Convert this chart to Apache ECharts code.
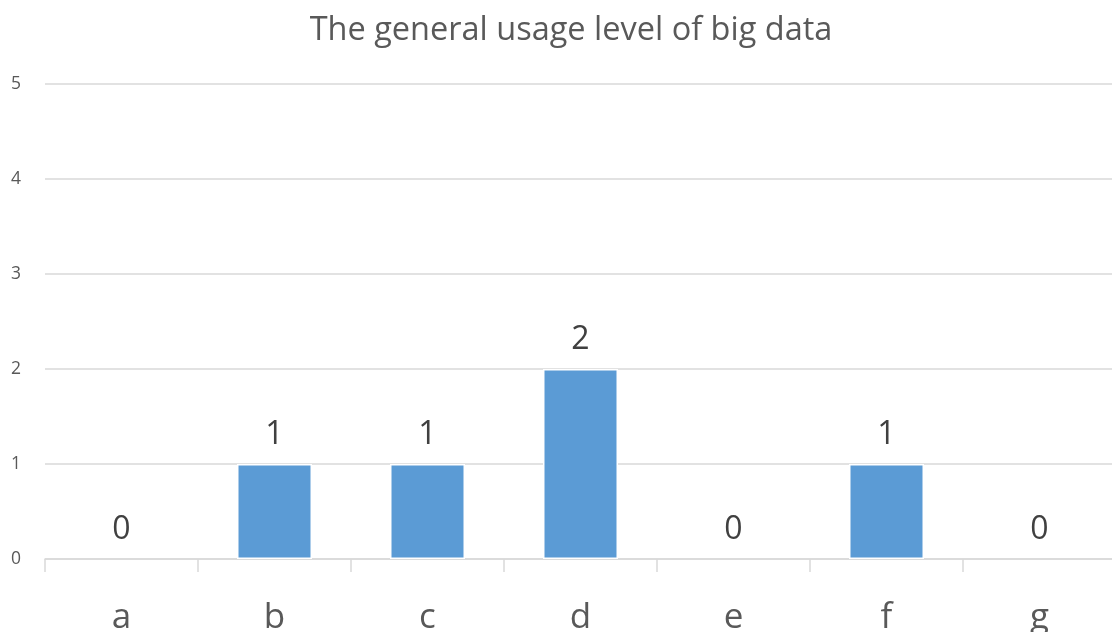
<!DOCTYPE html>
<html>
<head>
<meta charset="utf-8">
<script src="https://cdn.jsdelivr.net/npm/echarts@6/dist/echarts.min.js"></script>
<style>
  html, body { margin: 0; padding: 0; background: #fff; }
  #chart { width: 1112px; height: 632px; }
</style>
</head>
<body>
<div id="chart"></div>
<script>
// categories and values
const categories = ['a', 'b', 'c', 'd', 'e', 'f', 'g']
const usageLevel = [0, 1, 1, 2, 0, 1, 0]
const yTicks = { min: 0, max: 5, interval: 1 }

const chart = echarts.init(document.getElementById('chart'))
const font = '"Open Sans", "Noto Sans", sans-serif'

chart.setOption({
  animation: false,
  title: {
    text: 'The general usage level of big data',
    left: 566,
    textAlign: 'center',
    top: 9,
    textStyle: { fontFamily: font, fontSize: 32.5, fontWeight: 'normal', color: '#595959' }
  },
  // plot runs a little past the right edge of the window, as in the picture
  grid: { left: 45, top: 84, width: 1071, height: 475, containLabel: false, outerBoundsMode: 'none' },
  xAxis: {
    type: 'category',
    data: categories,
    axisLine: { lineStyle: { color: '#d9d9d9', width: 1.5 } },
    axisTick: { show: true, length: 13, lineStyle: { color: '#d9d9d9', width: 1.5 } },
    axisLabel: { fontFamily: font, fontSize: 35, color: '#595959', margin: 42 }
  },
  yAxis: {
    type: 'value',
    min: yTicks.min,
    max: yTicks.max,
    interval: yTicks.interval,
    axisLine: { show: false },
    axisTick: { show: false },
    axisLabel: { fontFamily: font, fontSize: 17.5, color: '#595959', margin: 24 },
    splitLine: { lineStyle: { color: '#d9d9d9', width: 1.5 } }
  },
  series: [{
    type: 'bar',
    // zero bars get no white border so the axis line stays visible
    data: usageLevel.map(v => (v === 0 ? { value: v, itemStyle: { borderWidth: 0 } } : v)),
    barWidth: 75,
    itemStyle: { color: '#5b9bd5', borderColor: '#fff', borderWidth: 1.5 },
    label: {
      show: true,
      position: 'top',
      distance: 13,
      fontFamily: font,
      fontSize: 32,
      color: '#404040'
    }
  }]
})
</script>
</body>
</html>
